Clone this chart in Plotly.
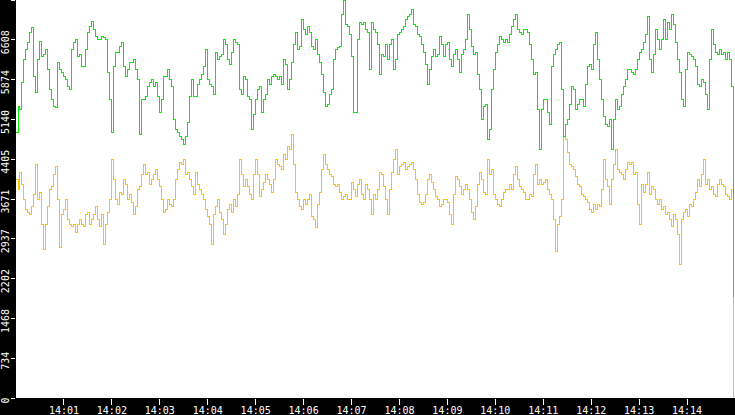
import pandas as pd
import plotly.graph_objects as go

# samples every 2.5 s from 14:00:00; the last value is the drop at the end of the log
start = "2024-01-01 14:00:00"
step = "2500ms"

green_vals = [
    4893, 5372, 5317, 5815, 6239, 6423, 6552, 6736, 6829, 5925,
    5630, 6239, 6570, 6294, 6331, 6423, 6054, 5685, 5501, 5372,
    5353, 6183, 6054, 5999, 5925, 5870, 5741, 5685, 6423, 6552,
    6607, 6294, 6331, 6110, 6110, 6423, 6736, 6847, 6939, 6792,
    6663, 6607, 6607, 6663, 6644, 6607, 5999, 5501, 4893, 6110,
    6368, 6368, 6478, 6552, 6110, 5925, 6054, 6183, 6183, 6239,
    6054, 5870, 4856, 5501, 5501, 5556, 5741, 5815, 5870, 5741,
    5815, 5556, 5261, 5501, 5925, 5925, 6054, 5870, 5741, 5132,
    4948, 4893, 4819, 4763, 4671, 4819, 5077, 5556, 5870, 5556,
    5556, 5778, 5870, 5962, 6110, 6423, 5870, 5778, 5741, 5593,
    6368, 6239, 6294, 6331, 6607, 6515, 6239, 6146, 6368, 6607,
    6552, 6515, 5685, 5593, 5925, 5870, 5556, 5501, 4948, 5224,
    5501, 5685, 5741, 5261, 5501, 5593, 5870, 5778, 5925, 5962,
    5925, 5870, 5925, 5778, 6239, 6146, 5685, 5870, 6183, 6515,
    6736, 6423, 6478, 6976, 6792, 6700, 6847, 6736, 6478, 6423,
    6607, 6331, 6183, 5962, 5630, 5372, 5409, 5593, 5685, 6239,
    6423, 6460, 6478, 7068, 7343, 6884, 6847, 6700, 6294, 5261,
    5261, 6607, 6921, 6884, 6921, 6792, 6736, 6054, 6921, 6792,
    6736, 6515, 5962, 6331, 6294, 6515, 6239, 6515, 6607, 6054,
    6239, 6700, 6736, 6792, 6847, 6976, 7032, 7068, 7161, 6884,
    6847, 6700, 6663, 6515, 6368, 6146, 5778, 6054, 6294, 6423,
    6294, 6331, 6663, 6515, 6294, 6515, 6552, 6239, 6110, 6331,
    6423, 6239, 5999, 6331, 6423, 6607, 7068, 6792, 6478, 6331,
    6368, 5962, 5685, 5132, 5372, 5409, 4763, 4948, 5685, 6054,
    6368, 6515, 6663, 6607, 6552, 6607, 6552, 6700, 6847, 6976,
    7068, 6792, 6736, 6700, 6792, 6792, 6736, 6515, 6239, 5962,
    5999, 5317, 4579, 5317, 5501, 5501, 5261, 5040, 6110, 6331,
    6423, 6515, 6552, 5685, 4819, 5040, 5132, 5409, 5741, 5685,
    5317, 5409, 5501, 5501, 5372, 5778, 6110, 6146, 6054, 6515,
    6736, 6239, 5870, 5501, 5188, 5040, 5003, 5132, 4579, 5132,
    5501, 5317, 5372, 5593, 5741, 5870, 6054, 6054, 5999, 5962,
    6054, 6239, 6368, 6423, 6552, 6700, 7032, 6239, 5999, 6331,
    6792, 6607, 6423, 6607, 6976, 6607, 6921, 6792, 7068, 6884,
    6552, 6239, 5999, 5501, 5372, 6054, 6368, 6331, 6294, 6239,
    6110, 5778, 5741, 5870, 5815, 5593, 5317, 6239, 6792, 6515,
    6368, 6331, 6423, 6331, 6368, 6239, 6368, 6239, 5741, 1868,
]

yellow_vals = [
    4026, 3841, 4155, 3934, 3657, 3473, 3417, 3380, 3528, 3749,
    4302, 3657, 3786, 3196, 2735, 3196, 3528, 3841, 3897, 4118,
    4266, 3657, 2772, 3380, 3473, 3657, 3288, 3196, 3159, 3196,
    3048, 3196, 3288, 3196, 3159, 3380, 3417, 3196, 3288, 3380,
    3528, 3288, 3159, 3380, 2827, 3196, 3417, 3657, 4395, 4026,
    3657, 3565, 3786, 3749, 4026, 3934, 3657, 3749, 3602, 3380,
    3528, 3841, 3897, 4118, 4302, 4118, 4155, 3934, 4026, 4118,
    4210, 4026, 3897, 3657, 3417, 3473, 3657, 3565, 3528, 3657,
    4026, 4210, 4339, 4302, 4395, 4118, 4155, 4026, 3897, 3749,
    4155, 3934, 3841, 3749, 3657, 3473, 3343, 3196, 2827, 3380,
    3528, 3657, 3417, 3288, 3011, 3196, 3473, 3565, 3417, 3657,
    3528, 3749, 4395, 4118, 3897, 4026, 3897, 3749, 3657, 4118,
    4395, 4118, 3712, 3841, 3970, 4118, 4026, 3934, 3786, 4026,
    4395, 4302, 4266, 4210, 4487, 4395, 4634, 4579, 4856, 4302,
    3786, 3657, 3528, 3473, 3657, 3565, 3657, 3749, 3343, 3288,
    3141, 3565, 3786, 4210, 4487, 4302, 4210, 4118, 4081, 3934,
    3897, 3934, 3786, 3657, 3712, 3749, 3657, 3657, 3970, 3841,
    3712, 3934, 4026, 3749, 3657, 3934, 3841, 3657, 3380, 3749,
    3657, 3841, 4155, 4118, 3897, 3657, 3380, 3841, 4155, 4395,
    4579, 4118, 4266, 4302, 4339, 4210, 4266, 4302, 4339, 4210,
    4026, 3749, 3602, 3565, 3602, 3749, 4026, 4118, 3970, 3841,
    3712, 3657, 3528, 3565, 3657, 3657, 3602, 3380, 3196, 3749,
    4081, 4026, 3897, 3749, 3841, 3934, 3841, 3657, 3417, 3288,
    3528, 3934, 4155, 4026, 3786, 3749, 4395, 4118, 4210, 3749,
    3657, 3565, 3528, 3657, 3786, 3841, 3841, 3934, 3841, 4118,
    4266, 4026, 3897, 3841, 3786, 3657, 3657, 3749, 3712, 4118,
    4302, 3934, 4026, 3934, 3970, 4026, 3841, 3749, 3657, 3288,
    2698, 3196, 3343, 3657, 4819, 4763, 4524, 4302, 4266, 4210,
    4081, 3934, 3897, 3749, 3712, 3657, 3602, 3473, 3417, 3565,
    3473, 3565, 3528, 3841, 4395, 4026, 3897, 3565, 4026, 4302,
    4579, 4210, 4155, 4118, 4026, 4210, 4339, 4302, 4339, 4118,
    4155, 3565, 3196, 3934, 3786, 3934, 4155, 3749, 3897, 3841,
    3657, 3565, 3657, 3473, 3528, 3380, 3417, 3288, 3159, 3380,
    3288, 3011, 2458, 3288, 3417, 3473, 3343, 3565, 3528, 3657,
    3786, 4026, 3897, 4118, 4395, 3934, 4026, 3841, 3897, 3749,
    3712, 3934, 4026, 3934, 3897, 3749, 3712, 3657, 3841, 0,
]

y_max = 7343
y_ticktext = ["0", "734", "1468", "2202", "2937", "3671", "4405", "5140", "5874", "6608", "7343"]
x_ticktext = ["14:%02d" % m for m in range(1, 15)]

t0 = pd.Timestamp(start)
times = pd.date_range(t0, periods=len(green_vals), freq=step)

font = dict(family="DejaVu Sans Mono", size=10, color="white")

fig = go.Figure()
fig.add_trace(go.Scatter(x=times, y=yellow_vals, mode="lines", line_shape="hv",
                         line=dict(color="#ffc000", width=1), name="yellow"))
fig.add_trace(go.Scatter(x=times, y=green_vals, mode="lines", line_shape="hv",
                         line=dict(color="#00ee00", width=1), name="green"))

fig.update_layout(
    template="none",
    width=735, height=415,
    margin=dict(l=16, r=0, t=0, b=17),
    paper_bgcolor="black", plot_bgcolor="white",
    showlegend=False,
    xaxis=dict(
        type="date",
        range=[t0, t0 + pd.Timedelta(minutes=15)],
        tickvals=[t0 + pd.Timedelta(minutes=m) for m in range(1, 15)],
        ticktext=x_ticktext,
        ticks="outside", ticklen=6, tickcolor="white", tickwidth=1,
        ticklabelstandoff=-3,
        tickfont=font, showgrid=False, zeroline=False, showline=False,
        automargin=False,
    ),
    yaxis=dict(
        range=[0, y_max],
        tickvals=[y_max * i / 10 for i in range(11)],
        ticktext=y_ticktext,
        tickangle=-90,
        ticklabelshift=4,
        ticklabelstandoff=-2,
        ticks="outside", ticklen=4, tickcolor="white", tickwidth=1,
        tickfont=font, showgrid=False, zeroline=False, showline=False,
        automargin=False,
    ),
)

# page body has an 8px default margin; drop it, and draw the traces without anti-aliasing
js = (
    "document.body.style.margin='0';"
    "document.querySelectorAll('.scatterlayer path').forEach(function(p){p.style.shapeRendering='crispEdges';});"
)
fig.write_html("out.html", post_script=js, config={"displayModeBar": False})
